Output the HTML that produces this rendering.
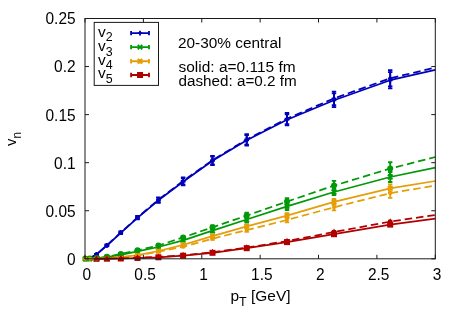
<!DOCTYPE html>
<html><head><meta charset="utf-8"><title>vn</title>
<style>html,body{margin:0;padding:0;background:#fff;}body{width:463px;height:324px;overflow:hidden;font-family:"Liberation Sans",sans-serif;}svg{display:block}</style>
</head><body>
<svg width="463" height="324" viewBox="0 0 463 324">
<rect width="463" height="324" fill="#fff"/>
<path d="M85.4,258.8 V258.8 M83.2,258.8 H87.6 M83.2,258.8 H87.6 M89.9,258.3 V258.3 M87.7,258.3 H92.1 M87.7,258.3 H92.1 M96.5,253.9 V254.9 M94.3,253.9 H98.7 M94.3,254.9 H98.7 M106.9,244.7 V246.3 M104.7,244.7 H109.1 M104.7,246.3 H109.1 M120.8,231.6 V234 M118.6,231.6 H123 M118.6,234 H123 M137.5,216.2 V219.4 M135.3,216.2 H139.7 M135.3,219.4 H139.7 M158.4,197.9 V202.7 M156.2,197.9 H160.6 M156.2,202.7 H160.6 M183.1,178.2 V185.4 M180.9,178.2 H185.3 M180.9,185.4 H185.3 M212.5,156.5 V165.1 M210.3,156.5 H214.7 M210.3,165.1 H214.7 M246.7,135.1 V145.5 M244.5,135.1 H248.9 M244.5,145.5 H248.9 M287,114.2 V125.4 M284.8,114.2 H289.2 M284.8,125.4 H289.2 M334,93.35 V107.05 M331.8,93.35 H336.2 M331.8,107.05 H336.2 M390.2,72.1 V88.3 M388,72.1 H392.4 M388,88.3 H392.4" stroke="#0000ba" stroke-width="1.85" fill="none"/>
<path d="M83.1,258.8 h4.6 M85.4,256.5 v4.6 M87.6,258.3 h4.6 M89.9,256 v4.6 M94.2,254.4 h4.6 M96.5,252.1 v4.6 M104.6,245.5 h4.6 M106.9,243.2 v4.6 M118.5,232.8 h4.6 M120.8,230.5 v4.6 M135.2,217.8 h4.6 M137.5,215.5 v4.6 M156.1,200.3 h4.6 M158.4,198 v4.6 M180.8,181.8 h4.6 M183.1,179.5 v4.6 M210.2,160.8 h4.6 M212.5,158.5 v4.6 M244.4,140.3 h4.6 M246.7,138 v4.6 M284.7,119.8 h4.6 M287,117.5 v4.6 M331.7,100.2 h4.6 M334,97.9 v4.6 M387.9,80.2 h4.6 M390.2,77.9 v4.6" stroke="#0000ba" stroke-width="1.85" fill="none"/>
<path d="M85.4,258.8 L89.9,258.3 L96.5,254.4 L106.9,245.5 L120.8,232.8 L137.5,217.8 L158.4,200.3 L183.1,181.8 L212.5,160.8 L246.7,140.3 L287,119.8 L334,100.2 L390.2,80.2 L435.3,69.8" stroke="#0000ba" stroke-width="1.75" fill="none" stroke-linejoin="round"/>
<path d="M85.4,258.8 V258.8 M83.2,258.8 H87.6 M83.2,258.8 H87.6 M89.9,258.7 V258.7 M87.7,258.7 H92.1 M87.7,258.7 H92.1 M96.5,258 V258.6 M94.3,258 H98.7 M94.3,258.6 H98.7 M106.9,256.8 V257.6 M104.7,256.8 H109.1 M104.7,257.6 H109.1 M120.8,254.2 V255.4 M118.6,254.2 H123 M118.6,255.4 H123 M137.5,250.6 V252.2 M135.3,250.6 H139.7 M135.3,252.2 H139.7 M158.4,246 V248 M156.2,246 H160.6 M156.2,248 H160.6 M183.1,239.1 V241.5 M180.9,239.1 H185.3 M180.9,241.5 H185.3 M212.5,228.6 V232.6 M210.3,228.6 H214.7 M210.3,232.6 H214.7 M246.7,216.5 V222.5 M244.5,216.5 H248.9 M244.5,222.5 H248.9 M287,202.6 V210 M284.8,202.6 H289.2 M284.8,210 H289.2 M334,188.9 V195.1 M331.8,188.9 H336.2 M331.8,195.1 H336.2 M390.2,172 V182 M388,172 H392.4 M388,182 H392.4" stroke="#009a08" stroke-width="1.85" fill="none"/>
<path d="M83.1,256.5 l4.6,4.6 M83.1,261.1 l4.6,-4.6 M87.6,256.4 l4.6,4.6 M87.6,261 l4.6,-4.6 M94.2,256 l4.6,4.6 M94.2,260.6 l4.6,-4.6 M104.6,254.9 l4.6,4.6 M104.6,259.5 l4.6,-4.6 M118.5,252.5 l4.6,4.6 M118.5,257.1 l4.6,-4.6 M135.2,249.1 l4.6,4.6 M135.2,253.7 l4.6,-4.6 M156.1,244.7 l4.6,4.6 M156.1,249.3 l4.6,-4.6 M180.8,238 l4.6,4.6 M180.8,242.6 l4.6,-4.6 M210.2,228.3 l4.6,4.6 M210.2,232.9 l4.6,-4.6 M244.4,217.2 l4.6,4.6 M244.4,221.8 l4.6,-4.6 M284.7,204 l4.6,4.6 M284.7,208.6 l4.6,-4.6 M331.7,189.7 l4.6,4.6 M331.7,194.3 l4.6,-4.6 M387.9,174.7 l4.6,4.6 M387.9,179.3 l4.6,-4.6" stroke="#009a08" stroke-width="1.85" fill="none"/>
<path d="M85.4,258.8 L89.9,258.7 L96.5,258.3 L106.9,257.2 L120.8,254.8 L137.5,251.4 L158.4,247 L183.1,240.3 L212.5,230.6 L246.7,219.5 L287,206.3 L334,192 L390.2,177 L435.3,167.7" stroke="#009a08" stroke-width="1.75" fill="none" stroke-linejoin="round"/>
<path d="M85.4,258.8 V258.8 M83.2,258.8 H87.6 M83.2,258.8 H87.6 M89.9,258.8 V258.8 M87.7,258.8 H92.1 M87.7,258.8 H92.1 M96.5,258.4 V258.8 M94.3,258.4 H98.7 M94.3,258.8 H98.7 M106.9,257.9 V258.5 M104.7,257.9 H109.1 M104.7,258.5 H109.1 M120.8,256.8 V257.6 M118.6,256.8 H123 M118.6,257.6 H123 M137.5,254.8 V255.6 M135.3,254.8 H139.7 M135.3,255.6 H139.7 M158.4,250.6 V251.4 M156.2,250.6 H160.6 M156.2,251.4 H160.6 M183.1,244.4 V245.2 M180.9,244.4 H185.3 M180.9,245.2 H185.3 M212.5,235.1 V237.1 M210.3,235.1 H214.7 M210.3,237.1 H214.7 M246.7,224.6 V228.2 M244.5,224.6 H248.9 M244.5,228.2 H248.9 M287,213.1 V218.1 M284.8,213.1 H289.2 M284.8,218.1 H289.2 M334,199 V204.8 M331.8,199 H336.2 M331.8,204.8 H336.2 M390.2,184.4 V192.2 M388,184.4 H392.4 M388,192.2 H392.4" stroke="#e59e08" stroke-width="1.85" fill="none"/>
<path d="M83.1,258.8 h4.6 M85.4,256.5 v4.6 M83.1,256.5 l4.6,4.6 M83.1,261.1 l4.6,-4.6 M87.6,258.8 h4.6 M89.9,256.5 v4.6 M87.6,256.5 l4.6,4.6 M87.6,261.1 l4.6,-4.6 M94.2,258.6 h4.6 M96.5,256.3 v4.6 M94.2,256.3 l4.6,4.6 M94.2,260.9 l4.6,-4.6 M104.6,258.2 h4.6 M106.9,255.9 v4.6 M104.6,255.9 l4.6,4.6 M104.6,260.5 l4.6,-4.6 M118.5,257.2 h4.6 M120.8,254.9 v4.6 M118.5,254.9 l4.6,4.6 M118.5,259.5 l4.6,-4.6 M135.2,255.2 h4.6 M137.5,252.9 v4.6 M135.2,252.9 l4.6,4.6 M135.2,257.5 l4.6,-4.6 M156.1,251 h4.6 M158.4,248.7 v4.6 M156.1,248.7 l4.6,4.6 M156.1,253.3 l4.6,-4.6 M180.8,244.8 h4.6 M183.1,242.5 v4.6 M180.8,242.5 l4.6,4.6 M180.8,247.1 l4.6,-4.6 M210.2,236.1 h4.6 M212.5,233.8 v4.6 M210.2,233.8 l4.6,4.6 M210.2,238.4 l4.6,-4.6 M244.4,226.4 h4.6 M246.7,224.1 v4.6 M244.4,224.1 l4.6,4.6 M244.4,228.7 l4.6,-4.6 M284.7,215.6 h4.6 M287,213.3 v4.6 M284.7,213.3 l4.6,4.6 M284.7,217.9 l4.6,-4.6 M331.7,201.9 h4.6 M334,199.6 v4.6 M331.7,199.6 l4.6,4.6 M331.7,204.2 l4.6,-4.6 M387.9,188.3 h4.6 M390.2,186 v4.6 M387.9,186 l4.6,4.6 M387.9,190.6 l4.6,-4.6" stroke="#e59e08" stroke-width="1.85" fill="none"/>
<path d="M85.4,258.8 L89.9,258.8 L96.5,258.6 L106.9,258.2 L120.8,257.2 L137.5,255.2 L158.4,251 L183.1,244.8 L212.5,236.1 L246.7,226.4 L287,215.6 L334,201.9 L390.2,188.3 L435.3,181" stroke="#e59e08" stroke-width="1.75" fill="none" stroke-linejoin="round"/>
<path d="M96.5,258.6 V259 M94.3,258.6 H98.7 M94.3,259 H98.7 M106.9,258.4 V259 M104.7,258.4 H109.1 M104.7,259 H109.1 M120.8,258.1 V258.9 M118.6,258.1 H123 M118.6,258.9 H123 M137.5,257.5 V258.5 M135.3,257.5 H139.7 M135.3,258.5 H139.7 M158.4,256.7 V257.9 M156.2,256.7 H160.6 M156.2,257.9 H160.6 M183.1,254.9 V256.5 M180.9,254.9 H185.3 M180.9,256.5 H185.3 M212.5,251.8 V253.8 M210.3,251.8 H214.7 M210.3,253.8 H214.7 M246.7,247.2 V249.2 M244.5,247.2 H248.9 M244.5,249.2 H248.9 M287,241.1 V243.1 M284.8,241.1 H289.2 M284.8,243.1 H289.2 M334,233.2 V235.2 M331.8,233.2 H336.2 M331.8,235.2 H336.2 M390.2,223.6 V225.6 M388,223.6 H392.4 M388,225.6 H392.4" stroke="#b00000" stroke-width="1.85" fill="none"/>
<g fill="#b00000"><rect x="93.5" y="255.8" width="6" height="6"/><rect x="103.9" y="255.7" width="6" height="6"/><rect x="117.8" y="255.5" width="6" height="6"/><rect x="134.5" y="255" width="6" height="6"/><rect x="155.4" y="254.3" width="6" height="6"/><rect x="180.1" y="252.7" width="6" height="6"/><rect x="209.5" y="249.8" width="6" height="6"/><rect x="243.7" y="245.2" width="6" height="6"/><rect x="284" y="239.1" width="6" height="6"/><rect x="331" y="231.2" width="6" height="6"/><rect x="387.2" y="221.6" width="6" height="6"/></g>
<path d="M96.5,258.8 L106.9,258.7 L120.8,258.5 L137.5,258 L158.4,257.3 L183.1,255.7 L212.5,252.8 L246.7,248.2 L287,242.1 L334,234.2 L390.2,224.6 L435.3,218.7" stroke="#b00000" stroke-width="1.75" fill="none" stroke-linejoin="round"/>
<path d="M85.4,258.8 V258.8 M83.2,258.8 H87.6 M83.2,258.8 H87.6 M89.9,258.3 V258.3 M87.7,258.3 H92.1 M87.7,258.3 H92.1 M96.5,253.9 V254.9 M94.3,253.9 H98.7 M94.3,254.9 H98.7 M106.9,244.5 V246.1 M104.7,244.5 H109.1 M104.7,246.1 H109.1 M120.8,231.3 V233.7 M118.6,231.3 H123 M118.6,233.7 H123 M137.5,215.8 V219 M135.3,215.8 H139.7 M135.3,219 H139.7 M158.4,197.4 V202.2 M156.2,197.4 H160.6 M156.2,202.2 H160.6 M183.1,177.3 V184.5 M180.9,177.3 H185.3 M180.9,184.5 H185.3 M212.5,155.9 V164.5 M210.3,155.9 H214.7 M210.3,164.5 H214.7 M246.7,134.2 V144.6 M244.5,134.2 H248.9 M244.5,144.6 H248.9 M287,113 V124.2 M284.8,113 H289.2 M284.8,124.2 H289.2 M334,91.55 V105.25 M331.8,91.55 H336.2 M331.8,105.25 H336.2 M390.2,70.2 V86.4 M388,70.2 H392.4 M388,86.4 H392.4" stroke="#0000ba" stroke-width="1.85" fill="none"/>
<path d="M83.1,258.8 h4.6 M85.4,256.5 v4.6 M87.6,258.3 h4.6 M89.9,256 v4.6 M94.2,254.4 h4.6 M96.5,252.1 v4.6 M104.6,245.3 h4.6 M106.9,243 v4.6 M118.5,232.5 h4.6 M120.8,230.2 v4.6 M135.2,217.4 h4.6 M137.5,215.1 v4.6 M156.1,199.8 h4.6 M158.4,197.5 v4.6 M180.8,180.9 h4.6 M183.1,178.6 v4.6 M210.2,160.2 h4.6 M212.5,157.9 v4.6 M244.4,139.4 h4.6 M246.7,137.1 v4.6 M284.7,118.6 h4.6 M287,116.3 v4.6 M331.7,98.4 h4.6 M334,96.1 v4.6 M387.9,78.3 h4.6 M390.2,76 v4.6" stroke="#0000ba" stroke-width="1.85" fill="none"/>
<path d="M85.4,258.8 L89.9,258.3 L96.5,254.4 L106.9,245.3 L120.8,232.5 L137.5,217.4 L158.4,199.8 L183.1,180.9 L212.5,160.2 L246.7,139.4 L287,118.6 L334,98.4 L390.2,78.3 L435.3,67.6" stroke="#0000ba" stroke-width="1.75" fill="none" stroke-linejoin="round" stroke-dasharray="7.5,3.95" stroke-dashoffset="7.58"/>
<path d="M85.4,258.8 V258.8 M83.2,258.8 H87.6 M83.2,258.8 H87.6 M89.9,258.6 V258.6 M87.7,258.6 H92.1 M87.7,258.6 H92.1 M96.5,257.7 V258.3 M94.3,257.7 H98.7 M94.3,258.3 H98.7 M106.9,256.4 V257.2 M104.7,256.4 H109.1 M104.7,257.2 H109.1 M120.8,253.3 V254.5 M118.6,253.3 H123 M118.6,254.5 H123 M137.5,249.5 V251.1 M135.3,249.5 H139.7 M135.3,251.1 H139.7 M158.4,244.5 V246.5 M156.2,244.5 H160.6 M156.2,246.5 H160.6 M183.1,236.2 V238.6 M180.9,236.2 H185.3 M180.9,238.6 H185.3 M212.5,225.3 V229.3 M210.3,225.3 H214.7 M210.3,229.3 H214.7 M246.7,212.6 V218.6 M244.5,212.6 H248.9 M244.5,218.6 H248.9 M287,198.2 V205 M284.8,198.2 H289.2 M284.8,205 H289.2 M334,180.9 V190.3 M331.8,180.9 H336.2 M331.8,190.3 H336.2 M390.2,162.2 V175 M388,162.2 H392.4 M388,175 H392.4" stroke="#009a08" stroke-width="1.85" fill="none"/>
<g fill="#009a08"><circle cx="85.4" cy="258.8" r="3"/><circle cx="89.9" cy="258.6" r="3"/><circle cx="96.5" cy="258" r="3"/><circle cx="106.9" cy="256.8" r="3"/><circle cx="120.8" cy="253.9" r="3"/><circle cx="137.5" cy="250.3" r="3"/><circle cx="158.4" cy="245.5" r="3"/><circle cx="183.1" cy="237.4" r="3"/><circle cx="212.5" cy="227.3" r="3"/><circle cx="246.7" cy="215.6" r="3"/><circle cx="287" cy="201.6" r="3"/><circle cx="334" cy="185.6" r="3"/><circle cx="390.2" cy="168.6" r="3"/></g>
<path d="M85.4,258.8 L89.9,258.6 L96.5,258 L106.9,256.8 L120.8,253.9 L137.5,250.3 L158.4,245.5 L183.1,237.4 L212.5,227.3 L246.7,215.6 L287,201.6 L334,185.6 L390.2,168.6 L435.3,157" stroke="#009a08" stroke-width="1.75" fill="none" stroke-linejoin="round" stroke-dasharray="7.5,3.95" stroke-dashoffset="7.57"/>
<path d="M85.4,258.8 V258.8 M83.2,258.8 H87.6 M83.2,258.8 H87.6 M89.9,258.8 V258.8 M87.7,258.8 H92.1 M87.7,258.8 H92.1 M96.5,258.4 V258.8 M94.3,258.4 H98.7 M94.3,258.8 H98.7 M106.9,258 V258.6 M104.7,258 H109.1 M104.7,258.6 H109.1 M120.8,257 V257.8 M118.6,257 H123 M118.6,257.8 H123 M137.5,255.2 V256 M135.3,255.2 H139.7 M135.3,256 H139.7 M158.4,251.4 V252.2 M156.2,251.4 H160.6 M156.2,252.2 H160.6 M183.1,246.4 V247.2 M180.9,246.4 H185.3 M180.9,247.2 H185.3 M212.5,237.7 V239.7 M210.3,237.7 H214.7 M210.3,239.7 H214.7 M246.7,228.3 V231.9 M244.5,228.3 H248.9 M244.5,231.9 H248.9 M287,217.6 V222.4 M284.8,217.6 H289.2 M284.8,222.4 H289.2 M334,204.2 V210.4 M331.8,204.2 H336.2 M331.8,210.4 H336.2 M390.2,188.5 V197.9 M388,188.5 H392.4 M388,197.9 H392.4" stroke="#e59e08" stroke-width="1.85" fill="none"/>
<g fill="#e59e08"><circle cx="85.4" cy="258.8" r="2"/><circle cx="89.9" cy="258.8" r="2"/><circle cx="96.5" cy="258.6" r="2"/><circle cx="106.9" cy="258.3" r="2"/><circle cx="120.8" cy="257.4" r="2"/><circle cx="137.5" cy="255.6" r="2"/><circle cx="158.4" cy="251.8" r="2"/><circle cx="183.1" cy="246.8" r="2"/><circle cx="212.5" cy="238.7" r="2"/><circle cx="246.7" cy="230.1" r="2"/><circle cx="287" cy="220" r="2"/><circle cx="334" cy="207.3" r="2"/><circle cx="390.2" cy="193.2" r="2"/></g>
<path d="M85.4,258.8 L89.9,258.8 L96.5,258.6 L106.9,258.3 L120.8,257.4 L137.5,255.6 L158.4,251.8 L183.1,246.8 L212.5,238.7 L246.7,230.1 L287,220 L334,207.3 L390.2,193.2 L435.3,185.5" stroke="#e59e08" stroke-width="1.75" fill="none" stroke-linejoin="round" stroke-dasharray="7.5,3.95" stroke-dashoffset="7.56"/>
<path d="M96.5,258.6 V259 M94.3,258.6 H98.7 M94.3,259 H98.7 M106.9,258.3 V258.9 M104.7,258.3 H109.1 M104.7,258.9 H109.1 M120.8,257.9 V258.7 M118.6,257.9 H123 M118.6,258.7 H123 M137.5,257.2 V258.2 M135.3,257.2 H139.7 M135.3,258.2 H139.7 M158.4,256.3 V257.5 M156.2,256.3 H160.6 M156.2,257.5 H160.6 M183.1,254.4 V256 M180.9,254.4 H185.3 M180.9,256 H185.3 M212.5,251.3 V253.3 M210.3,251.3 H214.7 M210.3,253.3 H214.7 M246.7,246.6 V248.6 M244.5,246.6 H248.9 M244.5,248.6 H248.9 M287,240.1 V242.1 M284.8,240.1 H289.2 M284.8,242.1 H289.2 M334,231 V233 M331.8,231 H336.2 M331.8,233 H336.2 M390.2,220.6 V222.6 M388,220.6 H392.4 M388,222.6 H392.4" stroke="#b00000" stroke-width="1.85" fill="none"/>
<path d="M96.5,255.35 L93.5,260.6 L99.5,260.6 Z M106.9,255.15 L103.9,260.4 L109.9,260.4 Z M120.8,254.85 L117.8,260.1 L123.8,260.1 Z M137.5,254.25 L134.5,259.5 L140.5,259.5 Z M158.4,253.45 L155.4,258.7 L161.4,258.7 Z M183.1,251.75 L180.1,257 L186.1,257 Z M212.5,248.85 L209.5,254.1 L215.5,254.1 Z M246.7,244.15 L243.7,249.4 L249.7,249.4 Z M287,237.65 L284,242.9 L290,242.9 Z M334,228.55 L331,233.8 L337,233.8 Z M390.2,218.15 L387.2,223.4 L393.2,223.4 Z" fill="#b00000"/>
<path d="M96.5,258.8 L106.9,258.6 L120.8,258.3 L137.5,257.7 L158.4,256.9 L183.1,255.2 L212.5,252.3 L246.7,247.6 L287,241.1 L334,232 L390.2,221.6 L435.3,215" stroke="#b00000" stroke-width="1.75" fill="none" stroke-linejoin="round" stroke-dasharray="7.5,3.95" stroke-dashoffset="9.37"/>
<rect x="85" y="18.5" width="350.3" height="240.3" fill="none" stroke="#1a1a1a" stroke-width="1"/>
<path d="M85,258.8 v-4 M85,18.5 v4 M143.38,258.8 v-4 M143.38,18.5 v4 M201.77,258.8 v-4 M201.77,18.5 v4 M260.15,258.8 v-4 M260.15,18.5 v4 M318.53,258.8 v-4 M318.53,18.5 v4 M376.92,258.8 v-4 M376.92,18.5 v4 M435.3,258.8 v-4 M435.3,18.5 v4 M85,258.8 h4 M435.3,258.8 h-4 M85,210.74 h4 M435.3,210.74 h-4 M85,162.68 h4 M435.3,162.68 h-4 M85,114.62 h4 M435.3,114.62 h-4 M85,66.56 h4 M435.3,66.56 h-4 M85,18.5 h4 M435.3,18.5 h-4" stroke="#1a1a1a" stroke-width="1" fill="none"/>
<rect x="94.2" y="22.4" width="64.3" height="63" fill="#fff" stroke="#1a1a1a" stroke-width="1"/>
<path d="M131.1,33.1 H149 M131.1,30.9 v4.4 M149,30.9 v4.4" stroke="#0000ba" stroke-width="1.85" fill="none"/>
<path d="M137.75,33.1 h4.6 M140.05,30.8 v4.6" stroke="#0000ba" stroke-width="1.85" fill="none"/>
<path d="M131.1,47.15 H149 M131.1,44.95 v4.4 M149,44.95 v4.4" stroke="#009a08" stroke-width="1.85" fill="none"/>
<path d="M137.75,44.85 l4.6,4.6 M137.75,49.45 l4.6,-4.6" stroke="#009a08" stroke-width="1.85" fill="none"/>
<path d="M131.1,61.2 H149 M131.1,59 v4.4 M149,59 v4.4" stroke="#e59e08" stroke-width="1.85" fill="none"/>
<path d="M137.75,61.2 h4.6 M140.05,58.9 v4.6" stroke="#e59e08" stroke-width="1.85" fill="none"/><path d="M137.75,58.9 l4.6,4.6 M137.75,63.5 l4.6,-4.6" stroke="#e59e08" stroke-width="1.85" fill="none"/>
<path d="M131.1,75 H149 M131.1,72.8 v4.4 M149,72.8 v4.4" stroke="#b00000" stroke-width="1.85" fill="none"/>
<rect x="137.05" y="72" width="6" height="6" fill="#b00000"/>
<g font-family="'Liberation Sans', sans-serif" font-size="14.8" fill="#000" style="will-change:transform;opacity:0.999">
<text transform="translate(86.7,280.1) scale(0.9920,1)" text-anchor="middle" font-size="15.6">0</text>
<text transform="translate(145.08,280.1) scale(0.9920,1)" text-anchor="middle" font-size="15.6">0.5</text>
<text transform="translate(203.47,280.1) scale(0.9920,1)" text-anchor="middle" font-size="15.6">1</text>
<text transform="translate(261.85,280.1) scale(0.9920,1)" text-anchor="middle" font-size="15.6">1.5</text>
<text transform="translate(320.23,280.1) scale(0.9920,1)" text-anchor="middle" font-size="15.6">2</text>
<text transform="translate(378.62,280.1) scale(0.9920,1)" text-anchor="middle" font-size="15.6">2.5</text>
<text transform="translate(437,280.1) scale(0.9920,1)" text-anchor="middle" font-size="15.6">3</text>
<text transform="translate(75.6,264.7) scale(0.9920,1)" text-anchor="end" font-size="15.6">0</text>
<text transform="translate(75.6,216.64) scale(0.9920,1)" text-anchor="end" font-size="15.6">0.05</text>
<text transform="translate(75.6,168.58) scale(0.9920,1)" text-anchor="end" font-size="15.6">0.1</text>
<text transform="translate(75.6,120.52) scale(0.9920,1)" text-anchor="end" font-size="15.6">0.15</text>
<text transform="translate(75.6,72.46) scale(0.9920,1)" text-anchor="end" font-size="15.6">0.2</text>
<text transform="translate(75.6,24.4) scale(0.9920,1)" text-anchor="end" font-size="15.6">0.25</text>
<text transform="translate(178,47.6) scale(1.0120,1)" text-anchor="start" font-size="15.2">20-30% central</text>
<text transform="translate(178.5,71.6) scale(1.0180,1)" text-anchor="start" font-size="15.2">solid: a=0.115 fm</text>
<text transform="translate(178.5,86.3) scale(1.0030,1)" text-anchor="start" font-size="15.2">dashed: a=0.2 fm</text>
<text transform="translate(230.5,301) scale(1.0450,1)" text-anchor="start">p<tspan font-size="11.9" dy="4.7">T</tspan><tspan dy="-4.7"> [GeV]</tspan></text>
<text transform="translate(16,145.9) rotate(-90)">v<tspan font-size="11.9" dy="4.7">n</tspan></text>
<text transform="translate(98,36.7) scale(1.0450,1)" text-anchor="start">v<tspan font-size="11.9" dy="4.7">2</tspan></text>
<text transform="translate(98,51) scale(1.0450,1)" text-anchor="start">v<tspan font-size="11.9" dy="4.7">3</tspan></text>
<text transform="translate(98,64.6) scale(1.0450,1)" text-anchor="start">v<tspan font-size="11.9" dy="4.7">4</tspan></text>
<text transform="translate(98,78.2) scale(1.0450,1)" text-anchor="start">v<tspan font-size="11.9" dy="4.7">5</tspan></text>
</g>
</svg>
</body></html>
